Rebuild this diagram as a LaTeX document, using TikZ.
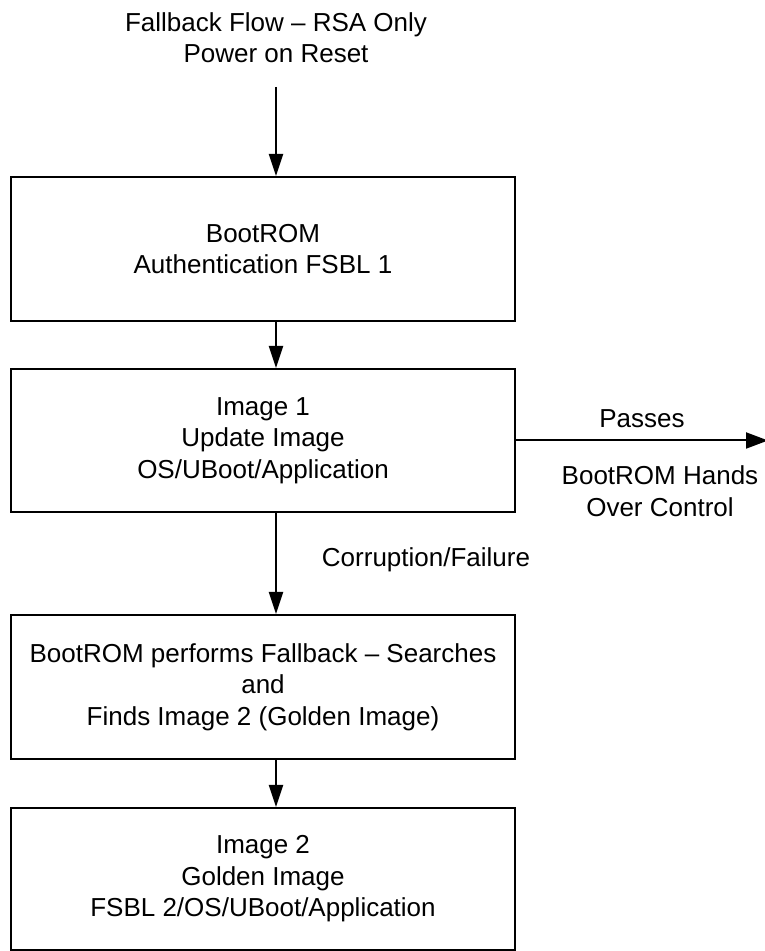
\documentclass[tikz,border=0pt]{standalone}
\usepackage{fontspec}
\setmainfont{Liberation Sans}
\usetikzlibrary{arrows.meta}
\tikzset{every picture/.style={x=1pt, y=1pt}}
\tikzset{
  flowtext/.style={align=center, inner sep=0pt, font=\fontsize{26}{31.5}\selectfont},
  flowbox/.style={flowtext, draw, line width=2pt, minimum width=504pt, minimum height=143pt},
  flowarrow/.style={line width=2pt, -{Triangle[length=22pt,width=14pt]}}
}

\begin{document}
\begin{tikzpicture}
      \useasboundingbox (0,0) rectangle (764,951);
      \coordinate (axis) at (276,0);
      % Title
      \node[flowtext] (title) at (276,913.5) {Fallback Flow -- RSA Only\\Power on Reset};
      % Boxes
      \node[flowbox, minimum height=144pt] (boot) at (263,702) {BootROM\\Authentication FSBL 1};
      \node[flowbox] (img1) at (263,510.5) {Image 1\\Update Image\\OS/UBoot/Application};
      \node[flowbox, minimum height=144pt] (fallback) at (263,264) {BootROM performs Fallback -- Searches\\and\\Finds Image 2 (Golden Image)};
      \node[flowbox, minimum height=142pt] (img2) at (263,72) {Image 2\\Golden Image\\FSBL 2/OS/UBoot/Application};
      % Arrows
      \draw[flowarrow, shorten <=24pt] (title.south) -- (boot.north -| axis);
      \draw[flowarrow] (boot.south -| axis) -- (img1.north -| axis);
      \draw[flowarrow] (img1.south -| axis) -- (fallback.north -| axis);
      \draw[flowarrow] (fallback.south -| axis) -- (img2.north -| axis);
      \coordinate (handover) at (768,510.5);
      \draw[flowarrow, -{Triangle[length=22pt,width=16pt]}] (img1.east) -- (handover);
      % Labels
      \node[flowtext] (passes) at (642,532) {Passes};
      \node[flowtext] (hands) at (660,460) {BootROM Hands\\Over Control};
      \node[flowtext] (corrupt) at (426,391) {Corruption/Failure};
\end{tikzpicture}
\end{document}
